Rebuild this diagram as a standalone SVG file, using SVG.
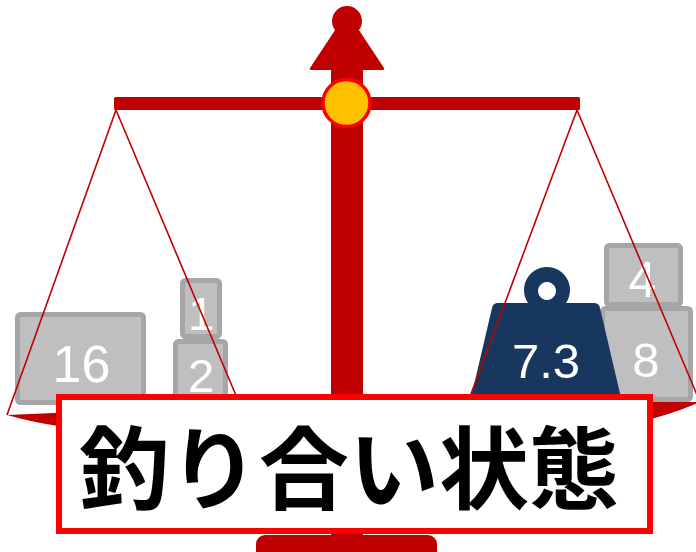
<svg xmlns="http://www.w3.org/2000/svg" width="696" height="552" viewBox="0 0 696 552">
  <style>
    .frame { fill: #C00000; }
    .string { stroke: #C00000; stroke-width: 1.6; fill: none; }
    .box { fill: #BFBFBF; stroke: #A6A6A6; stroke-width: 5; }
    .num { fill: #FFFFFF; font-family: "Liberation Sans", Arial, sans-serif; text-anchor: middle; }
    .title { fill: #000000; font-family: "Noto Sans CJK JP", "Noto Sans CJK SC", sans-serif; font-weight: bold; font-size: 90px; text-anchor: middle; }
  </style>

  <!-- pans -->
  <g id="pan-left">
    <path class="frame" d="M7,415 L240,405 Q200,432 124,432 Q60,430 7,415 Z"/>
  </g>
  <g id="pan-right">
    <path class="frame" d="M466,402 L700,402 Q640,428 583,428 Q520,428 466,402 Z"/>
  </g>

  <!-- weights on the left pan -->
  <g id="weight-16">
    <rect class="box" x="17.5" y="314.5" width="126" height="88" rx="3"/>
    <text class="num" x="81.5" y="382" font-size="52">16</text>
  </g>
  <g id="weight-2">
    <rect class="box" x="175.5" y="341.5" width="50" height="68" rx="3"/>
    <text class="num" x="201" y="392" font-size="47">2</text>
  </g>
  <g id="weight-1">
    <rect class="box" x="182.5" y="280.5" width="37" height="56" rx="3"/>
    <text class="num" x="201" y="330" font-size="47">1</text>
  </g>

  <!-- weights on the right pan -->
  <g id="weight-8">
    <rect class="box" x="602.5" y="308.5" width="88" height="91" rx="3"/>
    <text class="num" x="646" y="377" font-size="49">8</text>
  </g>
  <g id="weight-4">
    <rect class="box" x="606.5" y="245.5" width="74" height="59" rx="3"/>
    <text class="num" x="642.5" y="297" font-size="50">4</text>
  </g>
  <g id="weight-7-3">
    <path fill="#17375E" fill-rule="evenodd" d="M547,267 a23,23 0 1,1 -0.01,0 Z M547,282 a9,9 0 1,0 0.01,0 Z"/>
    <path fill="#17375E" d="M498,303 L594,303 Q599,303 600,308 L622,402 L470,402 L492,308 Q493,303 498,303 Z"/>
    <text class="num" x="546" y="378" font-size="49">7.3</text>
  </g>

  <!-- connectors: the strings holding the pans -->
  <g id="strings">
    <line class="string" x1="116" y1="110" x2="7" y2="415"/>
    <line class="string" x1="116" y1="110" x2="240" y2="405"/>
    <line class="string" x1="577" y1="110" x2="468" y2="402"/>
    <line class="string" x1="577" y1="110" x2="700" y2="402"/>
  </g>

  <!-- stand: post, top arrow, beam, fulcrum and base -->
  <g id="stand">
    <rect class="frame" x="256" y="535" width="181" height="30" rx="9"/>
    <rect class="frame" x="331" y="60" width="32" height="480"/>
    <path class="frame" d="M347,12 L384,68 Q385,70 382,70 L312,70 Q309,70 310,68 Z"/>
    <circle class="frame" cx="347" cy="21" r="15"/>
    <rect class="frame" x="114" y="97" width="466" height="13" rx="1.5"/>
    <circle cx="346.5" cy="103" r="23.5" fill="#FFC000" stroke="#FF0000" stroke-width="3.5"/>
  </g>

  <!-- caption -->
  <g id="label">
    <rect x="59" y="397" width="591" height="134" fill="#FFFFFF" stroke="#FF0000" stroke-width="6"/>
    <text class="title" x="349" y="502">釣り合い状態</text>
  </g>
</svg>
